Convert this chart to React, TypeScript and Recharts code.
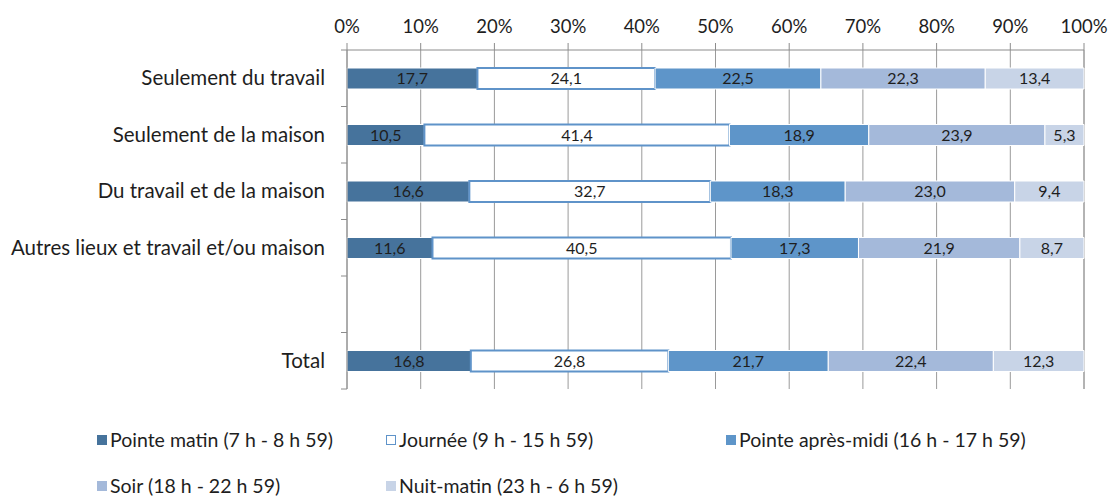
import { Bar, BarChart, CartesianGrid, LabelList, Legend, XAxis, YAxis } from "recharts";

const categories = [
  "Seulement du travail",
  "Seulement de la maison",
  "Du travail et de la maison",
  "Autres lieux et travail et/ou maison",
  "",
  "Total",
];
const pointeMatin = [17.7, 10.5, 16.6, 11.6, null, 16.8];
const journee = [24.1, 41.4, 32.7, 40.5, null, 26.8];
const pointeApresMidi = [22.5, 18.9, 18.3, 17.3, null, 21.7];
const soir = [22.3, 23.9, 23.0, 21.9, null, 22.4];
const nuitMatin = [13.4, 5.3, 9.4, 8.7, null, 12.3];
const xTicks = [0, 10, 20, 30, 40, 50, 60, 70, 80, 90, 100];

const series = [
  { key: "matin", name: "Pointe matin (7 h - 8 h 59)", values: pointeMatin, fill: "#46739c", stroke: "#ffffff", sw: 1 },
  { key: "journee", name: "Journée (9 h - 15 h 59)", values: journee, fill: "#ffffff", stroke: "#5f93c9", sw: 2 },
  { key: "apresMidi", name: "Pointe après-midi (16 h - 17 h 59)", values: pointeApresMidi, fill: "#5e95c9", stroke: "#ffffff", sw: 1 },
  { key: "soir", name: "Soir (18 h - 22 h 59)", values: soir, fill: "#a4b9da", stroke: "#ffffff", sw: 1 },
  { key: "nuit", name: "Nuit-matin (23 h - 6 h 59)", values: nuitMatin, fill: "#c8d4e7", stroke: "#ffffff", sw: 1 },
];

const data = categories.map((cat, i) => {
  const row: Record<string, string | number | null> = { cat };
  series.forEach((s) => (row[s.key] = s.values[i]));
  return row;
});

const FONT = "Lato, 'Open Sans', sans-serif";
const AXIS = "#8c8c8c";
const TICK_MARGIN = 16;
const TICK_SIZE = 6;

const fmt = (v: unknown) => (v == null ? "" : Number(v).toFixed(1).replace(".", ","));

// category label plus a short tick mark at each band edge
function CatTick(props: any) {
  const { x, y, payload, index } = props;
  const axisX = x + TICK_MARGIN + TICK_SIZE;
  const half = payload.offset ?? 0;
  return (
    <g>
      <line x1={axisX - 6} x2={axisX} y1={y - half} y2={y - half} stroke={AXIS} />
      {index === categories.length - 1 && (
        <line x1={axisX - 6} x2={axisX} y1={y + half} y2={y + half} stroke={AXIS} />
      )}
      <text x={x} y={y} dy={7} textAnchor="end" fontSize={20.5} fill="#1e1e1e" fontFamily={FONT}>
        {payload.value}
      </text>
    </g>
  );
}

function LegendBlock() {
  return (
    <div
      style={{
        display: "grid",
        gridTemplateColumns: "289px 340px auto",
        rowGap: 26,
        paddingLeft: 97,
        fontFamily: FONT,
        fontSize: 19.5,
        color: "#1e1e1e",
        lineHeight: "20px",
      }}
    >
      {series.map((s) => (
        <div key={s.key} style={{ display: "flex", alignItems: "center", whiteSpace: "nowrap" }}>
          <span
            style={{
              display: "inline-block",
              width: s.key === "journee" ? 8 : 10,
              height: s.key === "journee" ? 8 : 10,
              background: s.fill,
              border: s.key === "journee" ? `1px solid ${s.stroke}` : "none",
              marginRight: 3,
            }}
          />
          {s.name}
        </div>
      ))}
    </div>
  );
}

export default function App() {
  return (
    <div style={{ position: "absolute", left: 0, top: 0, width: 1110, height: 497, background: "#fff" }}>
      <BarChart
        width={1110}
        height={497}
        data={data}
        layout="vertical"
        barSize={21}
        margin={{ top: 0, right: 26, bottom: 108, left: 0 }}
      >
        <CartesianGrid horizontal={false} stroke="#9a9a9a" />
        <XAxis
          type="number"
          orientation="top"
          domain={[0, 100]}
          ticks={xTicks}
          tickFormatter={(v) => `${v}%`}
          height={50}
          axisLine={{ stroke: AXIS }}
          tickLine={{ stroke: AXIS }}
          tickSize={7}
          tickMargin={10}
          tick={{ fontSize: 18.5, fill: "#1e1e1e", fontFamily: FONT }}
          interval={0}
        />
        <YAxis
          type="category"
          dataKey="cat"
          width={347}
          axisLine={{ stroke: AXIS }}
          tickLine={false}
          tickSize={TICK_SIZE}
          tickMargin={TICK_MARGIN}
          tick={<CatTick />}
          interval={0}
        />
        {series.map((s) => (
          <Bar
            key={s.key}
            dataKey={s.key}
            name={s.name}
            stackId="a"
            fill={s.fill}
            stroke={s.stroke}
            strokeWidth={s.sw}
            isAnimationActive={false}
          >
            <LabelList
              dataKey={s.key}
              position="center"
              formatter={fmt}
              style={{ fontSize: 16, fill: "#1e1e1e", fontFamily: FONT }}
            />
          </Bar>
        ))}
        <Legend
          layout="vertical"
          align="center"
          verticalAlign="middle"
          wrapperStyle={{ top: 430, left: 0, width: 1110 }}
          content={() => <LegendBlock />}
        />
      </BarChart>
    </div>
  );
}
